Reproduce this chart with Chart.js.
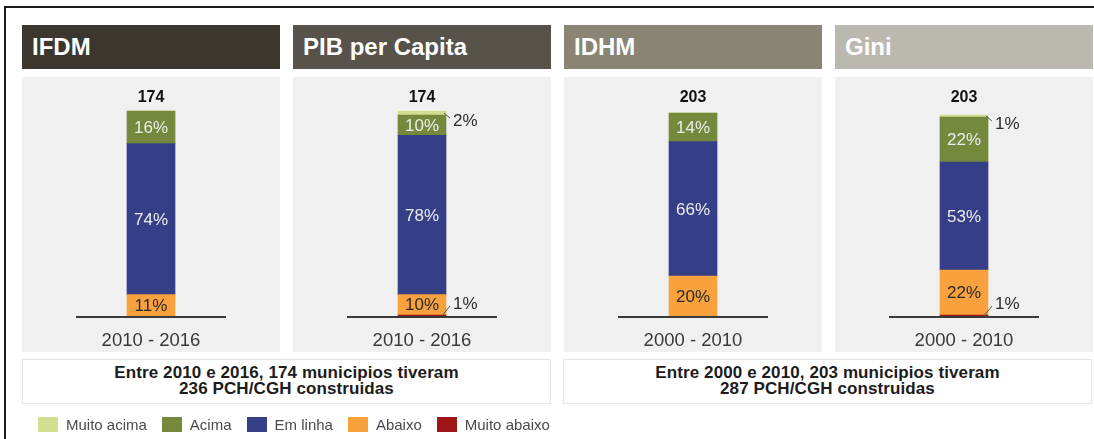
<!DOCTYPE html>
<html>
<head>
<meta charset="utf-8">
<script src="https://cdn.jsdelivr.net/npm/chart.js@4.4.1/dist/chart.umd.min.js"></script>
<style>
html,body{margin:0;padding:0;background:#fff;width:1094px;height:439px;overflow:hidden;font-family:"Liberation Sans",Arial,sans-serif;}
#frame{position:absolute;left:4px;top:6px;width:1100px;height:440px;border-left:2px solid #1a1a1a;border-top:2px solid #1a1a1a;}
.hdr{position:absolute;top:25px;height:44px;width:258px;color:#fff;font-weight:bold;font-size:24px;line-height:44px;padding-left:10px;box-sizing:border-box;white-space:nowrap;}
.panel{position:absolute;top:77px;height:275px;width:258px;background:#f0f0f0;}
.note{position:absolute;top:359px;height:45px;width:529px;background:#fff;border:1px solid #e4e4e4;box-sizing:border-box;text-align:center;font-weight:bold;font-size:17px;line-height:16px;letter-spacing:0.1px;color:#1c1c1c;padding-top:5px;}
#legend{position:absolute;left:38px;top:416px;display:flex;align-items:center;font-size:15px;color:#4a4a4a;}
#legend .it{display:flex;align-items:center;margin-right:15px;}
#legend .sw{width:20px;height:15px;margin-right:8px;}
#chart{position:absolute;left:0;top:0;}
</style>
</head>
<body>
<div id="frame"></div>
<div id="bg"></div>
<canvas id="chart" width="1110" height="439"></canvas>
<div id="legend"></div>
<script>
// ---- data ----
const categories = ["IFDM", "PIB per Capita", "IDHM", "Gini"];
const periods = ["2010 - 2016", "2010 - 2016", "2000 - 2010", "2000 - 2010"];
const municipios = [174, 174, 203, 203];
const seriesNames = ["Muito acima", "Acima", "Em linha", "Abaixo", "Muito abaixo"];
const muitoAcima = [0, 2, 0, 1];
const acima = [16, 10, 14, 22];
const emLinha = [74, 78, 66, 53];
const abaixo = [11, 10, 20, 22];
const muitoAbaixo = [0, 1, 0, 1];
const noteLines1 = ["Entre 2010 e 2016, 174 municipios tiveram", "236 PCH/CGH construidas"];
const noteLines2 = ["Entre 2000 e 2010, 203 municipios tiveram", "287 PCH/CGH construidas"];

// ---- styles ----
const seriesColors = ["#d3df90", "#76883b", "#353f88", "#f9a13d", "#a01515"];
const seriesTextColors = ["#333", "#ececec", "#ececec", "#2a2a2a", "#333"];
const headerColors = ["#3b362e", "#57524a", "#898474", "#bab8af"];
const FONT = '"Liberation Sans", Arial, sans-serif';

const seriesValues = [muitoAcima, acima, emLinha, abaixo, muitoAbaixo];

// backgrounds, headers, notes
const bg = document.getElementById('bg');
categories.forEach((t, i) => {
  const left = 22 + i * 271;
  const p = document.createElement('div');
  p.className = 'panel'; p.style.left = left + 'px';
  bg.appendChild(p);
  const h = document.createElement('div');
  h.className = 'hdr'; h.style.left = left + 'px'; h.style.background = headerColors[i];
  h.textContent = t;
  bg.appendChild(h);
});
[noteLines1, noteLines2].forEach((lines, k) => {
  const n = document.createElement('div');
  n.className = 'note'; n.style.left = (k === 0 ? 22 : 563) + 'px';
  lines.forEach((ln, j) => {
    if (j) n.appendChild(document.createElement('br'));
    n.appendChild(document.createTextNode(ln));
  });
  bg.appendChild(n);
});

// legend
const lg = document.getElementById('legend');
seriesNames.forEach((name, i) => {
  const it = document.createElement('div'); it.className = 'it';
  const sw = document.createElement('div'); sw.className = 'sw'; sw.style.background = seriesColors[i];
  const tx = document.createElement('span'); tx.textContent = name;
  it.appendChild(sw); it.appendChild(tx); lg.appendChild(it);
});

// datasets: bottom of stack first
const datasets = [];
for (let s = seriesNames.length - 1; s >= 0; s--) {
  datasets.push({
    label: seriesNames[s],
    data: seriesValues[s],
    backgroundColor: seriesColors[s],
    borderWidth: 0,
    barThickness: 48,
    clip: false,
    _series: s
  });
}

const labelPlugin = {
  id: 'barLabels',
  afterDatasetsDraw(chart) {
    const ctx = chart.ctx;
    const xs = chart.scales.x, ys = chart.scales.y;
    ctx.save();
    const y0 = ys.getPixelForValue(0);
    // baselines
    ctx.strokeStyle = '#3a3a3a';
    ctx.lineWidth = 2;
    periods.forEach((p, i) => {
      const x = xs.getPixelForValue(i);
      ctx.beginPath(); ctx.moveTo(x - 75, y0); ctx.lineTo(x + 75, y0); ctx.stroke();
    });
    // totals
    ctx.fillStyle = '#111';
    ctx.font = 'bold 16px ' + FONT;
    ctx.textAlign = 'center'; ctx.textBaseline = 'middle';
    municipios.forEach((m, i) => {
      ctx.fillText(String(m), xs.getPixelForValue(i), ys.getPixelForValue(100) - 15);
    });
    // segment labels
    chart.data.datasets.forEach((ds, d) => {
      const meta = chart.getDatasetMeta(d);
      const s = ds._series;
      meta.data.forEach((el, i) => {
        const v = ds.data[i];
        if (!v) return;
        const top = Math.min(el.y, el.base), bot = Math.max(el.y, el.base);
        const mid = (top + bot) / 2;
        const right = el.x + el.width / 2;
        ctx.font = '17px ' + FONT;
        if (v >= 5) {
          ctx.fillStyle = seriesTextColors[s];
          ctx.textAlign = 'center'; ctx.textBaseline = 'middle';
          ctx.fillText(v + '%', el.x, mid + 1);
        } else {
          ctx.strokeStyle = '#555'; ctx.lineWidth = 1;
          ctx.fillStyle = '#2a2a2a';
          ctx.textAlign = 'left'; ctx.textBaseline = 'middle';
          ctx.beginPath();
          if (s === 0) {
            ctx.moveTo(right - 2, mid); ctx.lineTo(right + 4, mid + 5);
            ctx.stroke();
            ctx.fillText(v + '%', right + 7, mid + 8);
          } else {
            ctx.moveTo(right - 4, mid); ctx.lineTo(right + 4, mid - 10);
            ctx.stroke();
            ctx.fillText(v + '%', right + 7, mid - 12);
          }
        }
      });
    });
    ctx.restore();
  }
};

Chart.defaults.font.family = FONT;
new Chart(document.getElementById('chart'), {
  type: 'bar',
  data: { labels: periods, datasets: datasets },
  options: {
    responsive: false,
    animation: false,
    events: [],
    layout: { padding: { left: 15.5, right: 10.5, top: 113, bottom: 92 } },
    plugins: { legend: { display: false }, tooltip: { enabled: false } },
    scales: {
      x: {
        stacked: true,
        grid: { display: false },
        border: { display: false },
        ticks: { font: { size: 18.5, family: FONT }, color: '#383838', padding: 5 },
        afterFit: (s) => { s.height = 30; }
      },
      y: { stacked: true, display: false, min: 0, max: 100 }
    }
  },
  plugins: [labelPlugin]
});
</script>
</body>
</html>
